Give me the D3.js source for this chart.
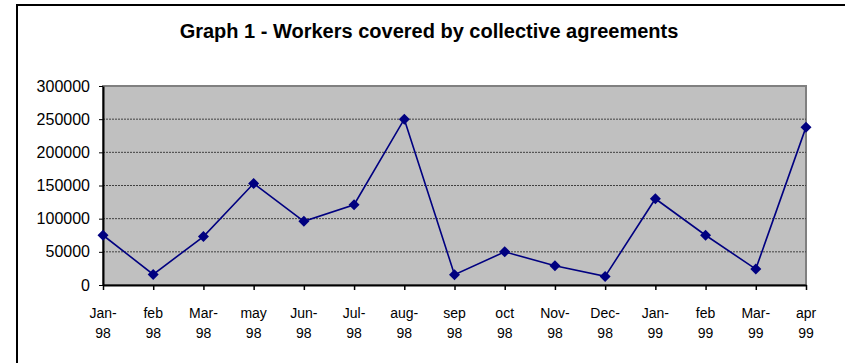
<!DOCTYPE html>
<html>
<head>
<meta charset="utf-8">
<script src="https://cdn.jsdelivr.net/npm/d3@7"></script>
<style>
  body { margin: 0; background: #fff; }
  svg { display: block; font-family: "Liberation Sans", Arial, sans-serif; }
</style>
</head>
<body>
<svg width="845" height="363"></svg>
<script>
const categories = ["Jan-98", "feb 98", "Mar-98", "may 98", "Jun-98", "Jul-98", "aug-98", "sep 98",
    "oct 98", "Nov-98", "Dec-98", "Jan-99", "feb 99", "Mar-99", "apr 99"];
const workers = [75000, 16000, 73000, 153000, 96000, 121000, 250000, 15500,
    50000, 29000, 13000, 130000, 75000, 24000, 238000];
const yTicks = [0, 50000, 100000, 150000, 200000, 250000, 300000];
const title = "Graph 1 - Workers covered by collective agreements";

const svg = d3.select("svg");
const plot = { left: 103, top: 86, right: 806, bottom: 285 };

// outer chart frame (only top and left edges show in the crop)
svg.append("rect")
    .attr("x", 17).attr("y", 5)
    .attr("width", 900).attr("height", 500)
    .attr("fill", "#fff")
    .attr("stroke", "#000")
    .attr("stroke-width", 2);

svg.append("text")
    .attr("x", 429).attr("y", 38)
    .attr("text-anchor", "middle")
    .attr("font-size", 20)
    .attr("font-weight", "bold")
    .text(title);

const x = d3.scalePoint().domain(categories).range([plot.left, plot.right]);
const y = d3.scaleLinear().domain([0, 300000]).range([plot.bottom, plot.top]);

svg.append("rect")
    .attr("x", plot.left).attr("y", plot.top)
    .attr("width", plot.right - plot.left)
    .attr("height", plot.bottom - plot.top)
    .attr("fill", "#c0c0c0")
    .attr("stroke", "#808080")
    .attr("stroke-width", 2);

// gridlines
svg.append("g")
    .selectAll("line")
    .data(yTicks.filter(d => d > 0 && d < 300000))
    .enter().append("line")
    .attr("x1", plot.left).attr("x2", plot.right)
    .attr("y1", d => y(d)).attr("y2", d => y(d))
    .attr("stroke", "#404040")
    .attr("stroke-width", 1)
    .attr("stroke-dasharray", "2,1");

const yAxis = svg.append("g")
    .attr("transform", `translate(${plot.left},0)`)
    .call(d3.axisLeft(y).tickValues(yTicks).tickFormat(d3.format("d")).tickSize(4).tickPadding(9).tickSizeOuter(0));
yAxis.select(".domain").attr("stroke", "#000").attr("stroke-width", 2);
yAxis.selectAll(".tick line").attr("stroke", "#000");
yAxis.selectAll("text").attr("font-size", 16).attr("fill", "#000")
    .attr("font-family", "Liberation Sans, Arial, sans-serif");

const xAxis = svg.append("g")
    .attr("transform", `translate(0,${plot.bottom})`)
    .call(d3.axisBottom(x).tickSize(5).tickSizeOuter(0).tickFormat(""));
xAxis.select(".domain").attr("stroke", "#000").attr("stroke-width", 2);
xAxis.selectAll(".tick line").attr("stroke", "#000").attr("stroke-width", 1.5);

const labels = svg.append("g")
    .attr("font-size", 14)
    .attr("text-anchor", "middle");
categories.forEach(c => {
    const m = c.match(/^(.*?[- ])(\d+)$/);
    const top = m[1].trim();
    labels.append("text").attr("x", x(c)).attr("y", 318).text(top);
    labels.append("text").attr("x", x(c)).attr("y", 338).text(m[2]);
});

const line = d3.line()
    .x((d, i) => x(categories[i]))
    .y(d => y(d));

svg.append("path")
    .datum(workers)
    .attr("d", line)
    .attr("fill", "none")
    .attr("stroke", "#000080")
    .attr("stroke-width", 1.6);

svg.append("g")
    .selectAll("path")
    .data(workers)
    .enter().append("path")
    .attr("transform", (d, i) => `translate(${x(categories[i])},${y(d)})`)
    .attr("d", "M0,-5.5L5.5,0L0,5.5L-5.5,0Z")
    .attr("fill", "#000080");
</script>
</body>
</html>
